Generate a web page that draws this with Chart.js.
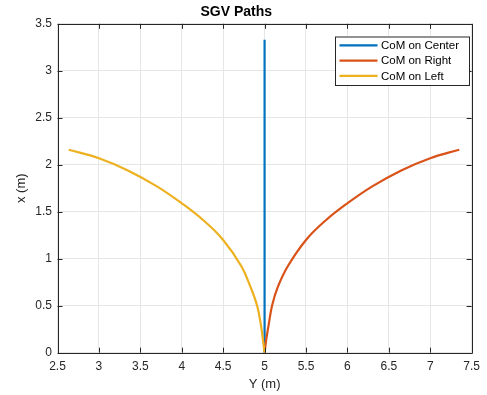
<!DOCTYPE html>
<html>
<head>
<meta charset="utf-8">
<script src="https://cdn.jsdelivr.net/npm/chart.js@4.4.0/dist/chart.umd.min.js"></script>
<style>
  html, body { margin: 0; padding: 0; background: #fff; }
  #wrap { width: 487px; height: 395px; }
</style>
</head>
<body>
<div id="wrap"><canvas id="myChart" width="487" height="395"></canvas></div>
<script>
// data
const labels = ['CoM on Center', 'CoM on Right', 'CoM on Left'];

const centerY = [5.00, 5.00];
const centerX = [0.00, 3.33];

const rightY = [5.00, 5.02, 5.05, 5.09, 5.16, 5.28, 5.50, 5.74, 6.00, 6.30, 6.65, 7.00, 7.35];
const rightX = [0.00, 0.14, 0.30, 0.50, 0.70, 0.92, 1.20, 1.41, 1.59, 1.77, 1.94, 2.07, 2.16];

const leftY = [5.00, 4.98, 4.955, 4.91, 4.83, 4.72, 4.50, 4.26, 4.00, 3.70, 3.35, 3.00, 2.635];
const leftX = [0.00, 0.14, 0.30, 0.50, 0.70, 0.92, 1.20, 1.41, 1.59, 1.77, 1.94, 2.07, 2.16];

const colors = ['#0072BD', '#D95319', '#EDB120'];

const xTicks = [2.5, 3, 3.5, 4, 4.5, 5, 5.5, 6, 6.5, 7, 7.5];
const yTicks = [0, 0.5, 1, 1.5, 2, 2.5, 3, 3.5];

const axisColor = '#262626';

function toPoints(xs, ys) {
    return xs.map((v, i) => ({ x: v, y: ys[i] }));
}

// matlab style box, inward ticks and the legend
const matlabBox = {
    id: 'matlabBox',
    afterDraw(chart) {
        const c = chart.ctx;
        const a = chart.chartArea;
        const sx = chart.scales.x, sy = chart.scales.y;
        c.save();
        c.strokeStyle = axisColor;
        c.lineWidth = 1;
        c.beginPath();
        c.rect(Math.round(a.left) + 0.5, Math.round(a.top) + 0.5, Math.round(a.right - a.left), Math.round(a.bottom - a.top));
        c.stroke();
        const tl = 5;
        c.beginPath();
        xTicks.forEach(t => {
            const px = Math.round(sx.getPixelForValue(t)) + 0.5;
            c.moveTo(px, a.bottom); c.lineTo(px, a.bottom - tl);
            c.moveTo(px, a.top); c.lineTo(px, a.top + tl);
        });
        yTicks.forEach(t => {
            const py = Math.round(sy.getPixelForValue(t)) + 0.5;
            c.moveTo(a.left, py); c.lineTo(a.left + tl, py);
            c.moveTo(a.right, py); c.lineTo(a.right - tl, py);
        });
        c.stroke();

        // legend box
        const lx = 335, ly = 36.5, lw = 134, lh = 48.5;
        c.fillStyle = '#fff';
        c.fillRect(lx, ly, lw, lh);
        c.strokeStyle = axisColor;
        c.strokeRect(lx + 0.5, ly + 0.5, lw, lh);
        c.font = '11.5px "Liberation Sans", Arial, sans-serif';
        c.textBaseline = 'middle';
        chart.data.datasets.forEach((ds, i) => {
            const yy = ly + 8.8 + i * 15.3;
            c.strokeStyle = ds.borderColor;
            c.lineWidth = 2.2;
            c.beginPath();
            c.moveTo(339.5, yy); c.lineTo(377.5, yy);
            c.stroke();
            c.fillStyle = '#000';
            c.fillText(ds.label, 381, yy + 0.5);
        });
        c.restore();
    }
};

const ctx = document.getElementById('myChart').getContext('2d');

new Chart(ctx, {
    type: 'scatter',
    data: {
        datasets: [{
            label: labels[0],
            data: toPoints(centerY, centerX),
            borderColor: colors[0],
            order: 2
        }, {
            label: labels[1],
            data: toPoints(rightY, rightX),
            borderColor: colors[1],
            order: 1
        }, {
            label: labels[2],
            data: toPoints(leftY, leftX),
            borderColor: colors[2],
            order: 0
        }]
    },
    options: {
        responsive: false,
        animation: false,
        events: [],
        showLine: true,
        layout: { padding: { left: 0, right: 14.5, top: 0, bottom: 0 } },
        elements: {
            point: { radius: 0 },
            line: { borderWidth: 2.2, tension: 0.4, fill: false }
        },
        plugins: {
            legend: { display: false },
            tooltip: { enabled: false },
            title: {
                display: true,
                text: 'SGV Paths',
                color: '#000',
                font: { family: '"Liberation Sans", Arial, sans-serif', size: 14, weight: 'bold' },
                padding: { top: 4, bottom: 3 }
            }
        },
        scales: {
            x: {
                type: 'linear',
                min: 2.5, max: 7.5,
                afterBuildTicks: s => { s.ticks = xTicks.map(v => ({ value: v })); },
                afterFit: s => { s.height = 42.3; },
                grid: { color: '#e6e6e6', drawTicks: false },
                border: { display: false },
                ticks: {
                    color: axisColor, padding: 7,
                    font: { family: '"Liberation Sans", Arial, sans-serif', size: 12 },
                    callback: v => String(v)
                },
                title: {
                    display: true, text: 'Y (m)', color: axisColor,
                    font: { family: '"Liberation Sans", Arial, sans-serif', size: 13 },
                    padding: { top: 0, bottom: 3 }
                }
            },
            y: {
                type: 'linear',
                min: 0, max: 3.5,
                afterBuildTicks: s => { s.ticks = yTicks.map(v => ({ value: v })); },
                afterFit: s => { s.width = 57.5; },
                grid: { color: '#e6e6e6', drawTicks: false },
                border: { display: false },
                ticks: {
                    color: axisColor, padding: 5.5,
                    font: { family: '"Liberation Sans", Arial, sans-serif', size: 12 },
                    callback: v => String(v)
                },
                title: {
                    display: true, text: 'x (m)', color: axisColor,
                    font: { family: '"Liberation Sans", Arial, sans-serif', size: 13 },
                    padding: { top: 14, bottom: 0 }
                }
            }
        }
    },
    plugins: [matlabBox]
});
</script>
</body>
</html>
